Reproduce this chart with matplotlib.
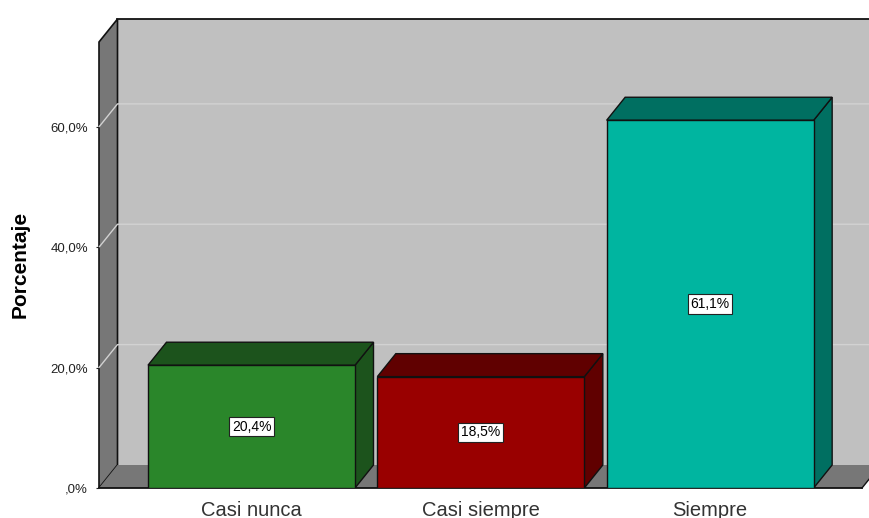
import matplotlib.pyplot as plt
from matplotlib.patches import Polygon, Rectangle

plt.rcParams['font.family'] = ['Liberation Sans', 'DejaVu Sans']

categories = ['Casi nunca', 'Casi siempre', 'Siempre']
percentages = [20.4, 18.5, 61.1]
value_labels = ['20,4%', '18,5%', '61,1%']
ytick_values = [0, 20, 40, 60]
ytick_labels = [',0%', '20,0%', '40,0%', '60,0%']

front_colors = ['#2a862a', '#990000', '#00b5a0']
dark_colors = ['#1c531c', '#600000', '#006f61']

W, H = 870, 518
fig = plt.figure(figsize=(W / 100, H / 100), dpi=100)
# front plane of the "3d" box
ax_l, ax_b, ax_w, ax_h = 99, 30, 771, 446
ax = fig.add_axes([ax_l / W, ax_b / H, ax_w / W, ax_h / H])
xmin, xmax = -0.665, 2.697
ymax = 74.1
ax.set_xlim(xmin, xmax)
ax.set_ylim(0, ymax)
ax.patch.set_visible(False)
for s in ax.spines.values():
    s.set_visible(False)

px_x = ax_w / (xmax - xmin)
px_y = ax_h / ymax
dx = 18.5 / px_x   # depth offset
dy = 23 / px_y
wall = '#c0c0c0'
side = '#777777'

# back wall
ax.add_patch(Polygon([(xmin + dx, dy), (xmax + 2, dy), (xmax + 2, ymax + dy), (xmin + dx, ymax + dy)],
                     closed=True, facecolor=wall, edgecolor='none', zorder=0, clip_on=False))
# left wall
ax.add_patch(Polygon([(xmin, 0), (xmin + dx, dy), (xmin + dx, ymax + dy), (xmin, ymax)],
                     closed=True, facecolor=side, edgecolor='#111111', lw=1.2, zorder=0.2, clip_on=False))
# floor
xf = xmax - 8 / px_x
ax.add_patch(Polygon([(xmin, 0), (xf, 0), (xf + dx, dy), (xmax + 2, dy), (xmin + dx, dy)],
                     closed=True, facecolor=side, edgecolor='none', zorder=0.2, clip_on=False))
ax.plot([xmin, xf], [0, 0], color='#111111', lw=1.3, zorder=0.3, clip_on=False)
ax.plot([xf, xf + dx], [0, dy], color='#111111', lw=1.0, zorder=0.3, clip_on=False)
ax.plot([xmin + dx, xmax + 2], [ymax + dy, ymax + dy], color='#111111', lw=1.3, zorder=0.3, clip_on=False)

# gridlines
for v in ytick_values[1:]:
    ax.plot([xmin, xmin + dx, xmax + 2], [v, v + dy, v + dy], color='#d2d2d2', lw=1.0,
            zorder=0.25, clip_on=False)

# bars
bw = 207 / px_x
for i, (v, fc, dc) in enumerate(zip(percentages, front_colors, dark_colors)):
    x0, x1 = i - bw / 2, i + bw / 2
    ax.add_patch(Polygon([(x1, 0), (x1 + dx, dy), (x1 + dx, v + dy), (x1, v)], closed=True,
                         facecolor=dc, edgecolor='#111111', lw=1.0, zorder=2))
    ax.add_patch(Polygon([(x0, v), (x1, v), (x1 + dx, v + dy), (x0 + dx, v + dy)], closed=True,
                         facecolor=dc, edgecolor='#111111', lw=1.0, zorder=2))
    ax.add_patch(Rectangle((x0, 0), bw, v, facecolor=fc, edgecolor='#111111', lw=1.0, zorder=3))
    ax.text(i, v / 2, value_labels[i], ha='center', va='center', fontsize=10, color='black', zorder=4,
            bbox=dict(boxstyle='square,pad=0.2', facecolor='white', edgecolor='#222222', lw=0.8))

ax.set_xticks(range(len(categories)))
ax.set_xticklabels(categories, fontsize=14.5, color='#333333')
ax.tick_params(axis='x', length=0, pad=9)
ax.set_yticks(ytick_values)
ax.set_yticklabels(ytick_labels, fontsize=9.5, color='#222222')
ax.tick_params(axis='y', length=2, pad=6, color='#222222')

fig.text(20 / W, 1 - 264 / H, 'Porcentaje', rotation=90, ha='center', va='center',
         fontsize=15, fontweight='bold', color='black')

fig.savefig('out.png', dpi=100)
